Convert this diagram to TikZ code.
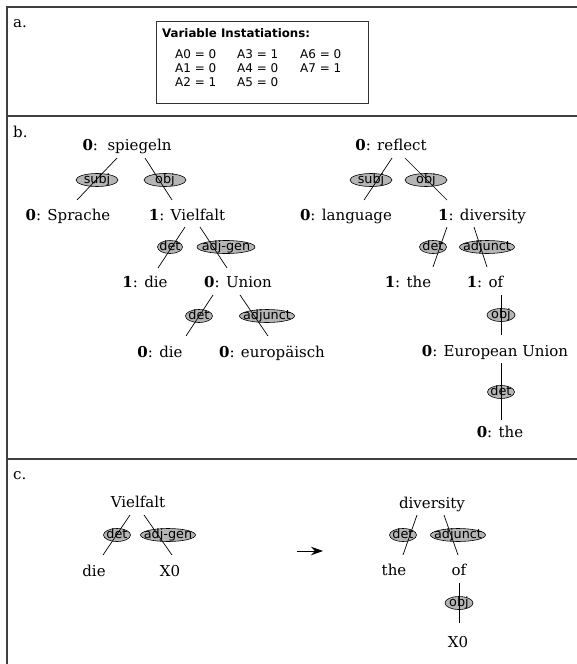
\documentclass[tikz,border=0pt]{standalone}
\usepackage{fontspec}
\setmainfont{DejaVu Serif}
\setsansfont{DejaVu Sans}
\usetikzlibrary{shapes.geometric,arrows.meta,calc}
\newcommand{\lb}[1]{\raisebox{-3.5pt}[0pt][0pt]{\makebox[0pt]{#1}}}
\tikzset{
  word/.style={anchor=base, inner sep=0pt, font=\fontsize{15}{18}\selectfont},
  sect/.style={anchor=base west, inner sep=0pt, font=\fontsize{15}{18}\selectfont},
  lab/.style={ellipse, draw=black, fill=black!29, line width=0.6pt, inner sep=0pt,
    minimum height=13pt, font=\sffamily\fontsize{12.8}{13}\selectfont},
  edge/.style={draw=black, line width=0.7pt},
  frame/.style={draw=black!75, line width=1.3pt},
  boxtxt/.style={anchor=base west, inner sep=0pt, font=\sffamily\fontsize{12}{14}\selectfont},
}
\begin{document}
\begin{tikzpicture}[x=1pt,y=-1pt]
\useasboundingbox (0,0) rectangle (577,664);
% frame
\draw[frame] (577,7) -- (7,7) -- (7,664);
\draw[frame] (7,116) -- (577,116);
\draw[frame] (7,459) -- (577,459);

% section a
\node[sect] (sa) at (13,27) {a.};
\node[draw=black!80, line width=0.9pt, minimum width=212pt, minimum height=82pt, anchor=north west, inner sep=0pt] (vbox) at (156,21) {};
\node[boxtxt, font=\sffamily\bfseries\fontsize{11.8}{14}\selectfont] (vt) at (162,37) {Variable Instatiations:};
\node[boxtxt] (a0) at (175,58) {A0 = 0};
\node[boxtxt] (a1) at (175,72) {A1 = 0};
\node[boxtxt] (a2) at (175,86) {A2 = 1};
\node[boxtxt] (a3) at (237,58) {A3 = 1};
\node[boxtxt] (a4) at (237,72) {A4 = 0};
\node[boxtxt] (a5) at (237,86) {A5 = 0};
\node[boxtxt] (a6) at (300,58) {A6 = 0};
\node[boxtxt] (a7) at (300,72) {A7 = 1};

% section b
\node[sect] (sb) at (13,137) {b.};
% left tree words
\node[word] (sp) at (127,150) {\textbf{0}:\ \ spiegeln};
\node[word] (spr) at (68,220) {\textbf{0}: Sprache};
\node[word] (vf) at (187,220) {\textbf{1}: Vielfalt};
\node[word] (die1) at (145,287) {\textbf{1}: die};
\node[word] (un) at (238,287) {\textbf{0}: Union};
\node[word] (die0) at (160,357) {\textbf{0}: die};
\node[word] (eu) at (272,357) {\textbf{0}: europäisch};
% left tree labels
\node[lab, minimum width=42pt] (l1) at (97,180) {\lb{subj}};
\node[lab, minimum width=42pt] (l2) at (165,180) {\lb{obj}};
\node[lab, minimum width=25pt] (l3) at (170,247) {\lb{det}};
\node[lab, minimum width=58pt] (l4) at (226,247) {\lb{adj-gen}};
\node[lab, minimum width=27pt] (l5) at (199,316) {\lb{det}};
\node[lab, minimum width=55pt] (l6) at (267,316) {\lb{adjunct}};
% left tree edges
\draw[edge] ($(sp.base)+(-10,8)$) -- ($(spr.base)+(9,-20)$);
\draw[edge] ($(sp.base)+(18,8)$) -- ($(vf.base)+(-15,-20)$);
\draw[edge] ($(vf.base)+(-2,7)$) -- ($(die1.base)+(13,-19)$);
\draw[edge] ($(vf.base)+(13,7)$) -- ($(un.base)+(-11,-19)$);
\draw[edge] ($(un.base)+(-25,8)$) -- ($(die0.base)+(26,-21)$);
\draw[edge] ($(un.base)+(2,8)$) -- ($(eu.base)+(-4,-21)$);

% right tree words
\node[word] (rf) at (391,150) {\textbf{0}: reflect};
\node[word] (lg) at (346,220) {\textbf{0}: language};
\node[word] (dv) at (482,220) {\textbf{1}: diversity};
\node[word] (th1) at (408,287) {\textbf{1}: the};
\node[word] (of1) at (485,287) {\textbf{1}: of};
\node[word] (eun) at (495,356) {\textbf{0}: European Union};
\node[word] (th0) at (500,437) {\textbf{0}: the};
% right tree labels
\node[lab, minimum width=42pt] (r1) at (371,180) {\lb{subj}};
\node[lab, minimum width=42pt] (r2) at (426,180) {\lb{obj}};
\node[lab, minimum width=27pt] (r3) at (433,247) {\lb{det}};
\node[lab, minimum width=55pt] (r4) at (487,247) {\lb{adjunct}};
\node[lab, minimum width=28pt] (r5) at (501,315) {\lb{obj}};
\node[lab, minimum width=27pt] (r6) at (501,392) {\lb{det}};
% right tree edges
\draw[edge] ($(rf.base)+(1,8)$) -- ($(lg.base)+(18,-20)$);
\draw[edge] ($(rf.base)+(14,8)$) -- ($(dv.base)+(-35,-20)$);
\draw[edge] ($(dv.base)+(-35,7)$) -- ($(th1.base)+(25,-20)$);
\draw[edge] ($(dv.base)+(-8,7)$) -- ($(of1.base)+(2,-20)$);
\draw[edge] ($(of1.base)+(16,8)$) -- ($(eun.base)+(6,-21)$);
\draw[edge] ($(eun.base)+(6,7)$) -- ($(th0.base)+(1,-17)$);

% section c
\node[sect] (sc) at (13,479) {c.};
\node[word] (vfc) at (138,507) {Vielfalt};
\node[word] (diec) at (94,576) {die};
\node[word] (x0a) at (170,576) {X0};
\node[lab, minimum width=27pt] (c1) at (117,535) {\lb{det}};
\node[lab, minimum width=55pt] (c2) at (168,535) {\lb{adj-gen}};
\draw[edge] ($(vfc.base)+(-8,8)$) -- ($(diec.base)+(9,-21)$);
\draw[edge] ($(vfc.base)+(6,8)$) -- ($(x0a.base)+(2,-21)$);

\coordinate (arS) at (297,551);
\coordinate (arE) at (323,551);
\draw[line width=0.9pt, -{Stealth[length=12pt,width=8.5pt]}] (arS) -- (arE);

\node[word] (dvc) at (432,508) {diversity};
\node[word] (thc) at (394,575) {the};
\node[word] (ofc) at (459,575) {of};
\node[word] (x0b) at (458,647) {X0};
\node[lab, minimum width=27pt] (c3) at (403,535) {\lb{det}};
\node[lab, minimum width=55pt] (c4) at (458,535) {\lb{adjunct}};
\node[lab, minimum width=28pt] (c5) at (459,603) {\lb{obj}};
\draw[edge] ($(dvc.base)+(-15,7)$) -- ($(thc.base)+(9,-20)$);
\draw[edge] ($(dvc.base)+(12,7)$) -- ($(ofc.base)+(-1,-20)$);
\draw[edge] ($(ofc.base)+(0,8)$) -- ($(x0b.base)+(1,-24)$);
\end{tikzpicture}
\end{document}
